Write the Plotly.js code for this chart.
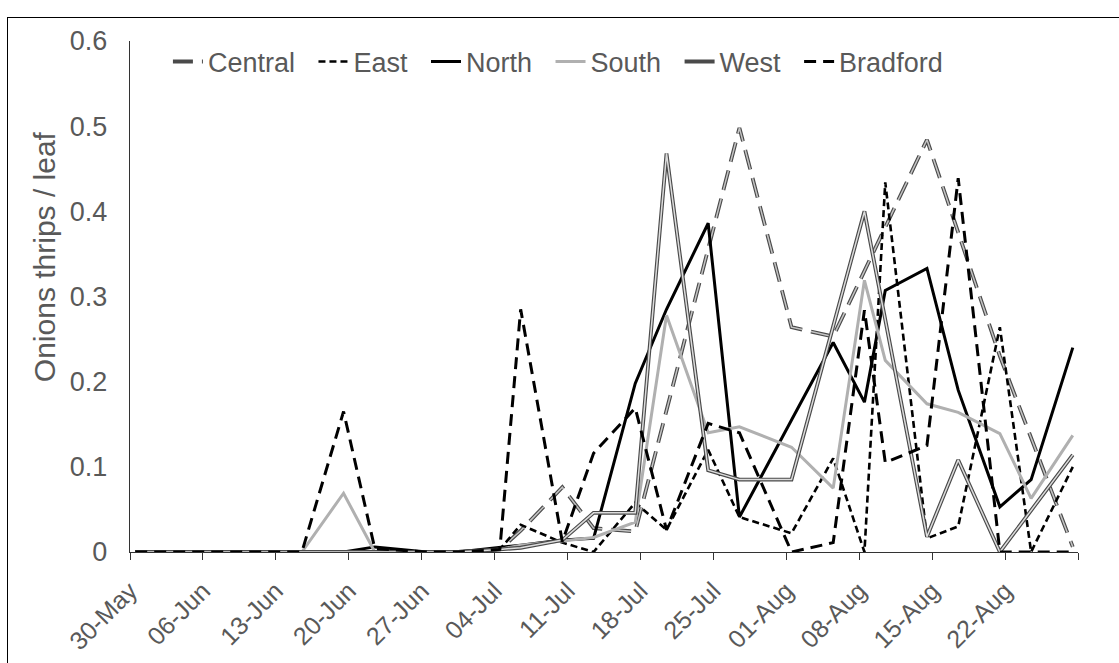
<!DOCTYPE html>
<html>
<head>
<meta charset="utf-8">
<script src="https://cdn.plot.ly/plotly-3.0.1.min.js"></script>
<style>
  html, body { margin: 0; padding: 0; background: #fff; }
  #frame { position: absolute; left: 7px; top: 17px; width: 1300px; height: 800px; border: 1.5px solid #000; }
  #chart { position: absolute; left: 0; top: 0; width: 1119px; height: 663px; }
</style>
</head>
<body>
<div id="frame"></div>
<div id="chart"></div>
<script>
// Sampling dates
const dates = ['2019-05-30','2019-06-03','2019-06-06','2019-06-10','2019-06-13','2019-06-15','2019-06-19',
  '2019-06-22','2019-06-27','2019-06-30','2019-07-04','2019-07-06','2019-07-10','2019-07-13','2019-07-17',
  '2019-07-20','2019-07-24','2019-07-27','2019-08-01','2019-08-05','2019-08-08','2019-08-10','2019-08-14',
  '2019-08-17','2019-08-21','2019-08-24','2019-08-28'];

// Onion thrips per leaf
const central  = [0,0,0,0,0,0,0,0,0,0,0.003,0.025,0.076,0.028,0.024,null,null,0.498,0.264,0.253,null,null,0.484,null,0.23,null,0.006];
const east     = [0,0,0,0,0,0,0,0,0,0,0.003,0.032,0.011,0,0.058,0.026,0.12,0.041,0.022,0.11,0,0.434,0.016,0.03,0.264,0,0.1];
const north    = [0,0,0,0,0,0,0,0.006,0,0,0.005,0.008,0.014,0.016,0.198,0.285,0.386,0.041,0.155,0.246,0.176,0.307,0.333,0.19,0.053,0.085,0.24];
const south    = [0,0,0,0,0,0,0.069,0,0,0,0.003,0.008,0.013,0.017,0.035,0.278,0.14,0.147,0.123,0.075,0.319,0.225,0.174,0.164,0.139,0.063,0.137];
const west     = [0,0,0,0,0,0,0,0,0,0,0.003,0.005,0.014,0.046,0.046,0.468,0.096,0.085,0.085,null,0.40,null,0.018,0.108,0,null,0.114];
const bradford = [0,0,0,0,0,0,0.165,0.004,0,0,0.003,0.285,0.012,0.116,0.169,0.026,0.151,0.14,0,0.011,0.284,0.105,0.125,0.439,0,0,0];

// Axis ticks (weekly)
const tickDates  = ['2019-05-30','2019-06-06','2019-06-13','2019-06-20','2019-06-27','2019-07-04','2019-07-11',
  '2019-07-18','2019-07-25','2019-08-01','2019-08-08','2019-08-15','2019-08-22','2019-08-29'];
const tickLabels = ['30-May','06-Jun','13-Jun','20-Jun','27-Jun','04-Jul','11-Jul','18-Jul','25-Jul','01-Aug','08-Aug','15-Aug','22-Aug',''];
const yTicks = [0, 0.1, 0.2, 0.3, 0.4, 0.5, 0.6];
const yTickLabels = ['0','0.1','0.2','0.3','0.4','0.5','0.6'];

// Excel date axis: ticks sit on day boundaries, points in the middle of the day
function dayStart(s) {
  const t = new Date(s + 'T00:00:00Z').getTime() - 12 * 3600e3;
  return new Date(t).toISOString().replace('T', ' ').slice(0, 19);
}
const tickVals = tickDates.map(dayStart);

const FONT = 'Liberation Sans, Arial, sans-serif';
const GREY = '#595959';
const PAD = '\u2002';   // spacing between legend entries

function tr(name, y, line, showlegend) {
  return { x: dates, y: y, name: name + PAD, type: 'scatter', mode: 'lines', connectgaps: true,
           line: line, showlegend: showlegend, hoverinfo: 'skip' };
}

const traces = [
  tr('Central', central, { color: '#4a4a4a', width: 3.8, dash: '20px,9px' }, true),
  tr('Central', central, { color: '#c4c4c4', width: 1.5, dash: '20px,9px' }, false),
  tr('East', east, { color: '#000', width: 2.6, dash: '7px,4px' }, true),
  tr('North', north, { color: '#000', width: 3 }, true),
  tr('South', south, { color: '#b0b0b0', width: 3 }, true),
  tr('West', west, { color: '#4a4a4a', width: 3.8 }, true),
  tr('West', west, { color: '#dcdcdc', width: 1.5 }, false),
  tr('Bradford', bradford, { color: '#000', width: 3, dash: '12px,7px' }, true)
];

const layout = {
  width: 1119, height: 663,
  margin: { l: 130, r: 41, t: 41, b: 111 },
  paper_bgcolor: 'rgba(0,0,0,0)', plot_bgcolor: 'rgba(0,0,0,0)',
  font: { family: FONT, color: GREY, size: 24 },
  showlegend: true,
  legend: { orientation: 'h', x: 0.04, y: 0.959, xanchor: 'left', yanchor: 'middle',
            bgcolor: 'rgba(0,0,0,0)', font: { family: FONT, size: 27, color: GREY },
            itemwidth: 30, tracegroupgap: 0 },
  xaxis: {
    type: 'date', range: [dayStart('2019-05-30'), dayStart('2019-08-29')],
    tickmode: 'array', tickvals: tickVals, ticktext: tickLabels, tickangle: -45,
    ticks: 'outside', ticklen: 7, tickcolor: '#333', tickwidth: 1, ticklabelstandoff: 6,
    showline: true, linecolor: '#333', linewidth: 1.3, showgrid: false, zeroline: false,
    tickfont: { family: FONT, size: 25, color: GREY }, fixedrange: true
  },
  yaxis: {
    range: [0, 0.6], tickmode: 'array', tickvals: yTicks, ticktext: yTickLabels,
    ticks: '', showline: true, linecolor: '#333', linewidth: 1.3, showgrid: false, zeroline: false,
    tickfont: { family: FONT, size: 27, color: GREY }, ticklabelstandoff: 16,
    fixedrange: true
  },
  annotations: [{
    text: 'Onions thrips / leaf', textangle: -90, showarrow: false,
    xref: 'paper', yref: 'paper', x: -0.0907, y: 0.577, xanchor: 'center', yanchor: 'middle',
    font: { family: FONT, size: 30, color: GREY }
  }]
};

Plotly.newPlot('chart', traces, layout, { staticPlot: true, displayModeBar: false });
</script>
</body>
</html>
